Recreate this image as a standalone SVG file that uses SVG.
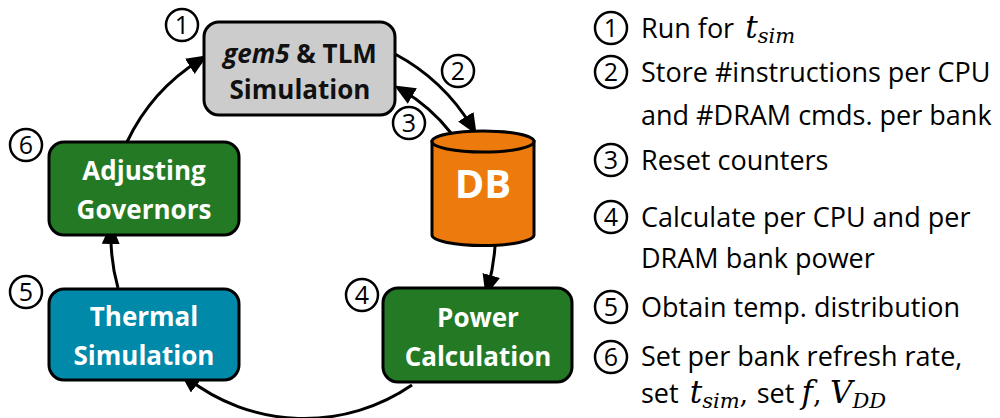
<svg xmlns="http://www.w3.org/2000/svg" width="1000" height="418" viewBox="0 0 1000 418">
<defs>
<style>
.box{stroke:#000;stroke-width:3}
.lbl{font-family:"Open Sans","Noto Sans",sans-serif;font-weight:bold;font-size:26px;fill:#fff;text-anchor:middle}
.num{fill:#fff;stroke:#000;stroke-width:2.5}
.numt{font-family:"Open Sans","Noto Sans",sans-serif;font-size:25px;fill:#000;text-anchor:middle}
.leg{font-family:"Open Sans","Noto Sans",sans-serif;font-size:27px;fill:#000}
.m{font-family:"DejaVu Serif","Liberation Serif",serif;font-style:italic}
.conn{fill:none;stroke:#000;stroke-width:3}
</style>
<marker id="ah" markerUnits="userSpaceOnUse" markerWidth="24" markerHeight="20" refX="12" refY="9" orient="auto">
<path d="M0,0 L21,9 L0,18 Z" fill="#000"/>
</marker>
</defs>
<rect width="1000" height="418" fill="#fff"/>

<g id="connectors">
<path class="conn" d="M127,142 A195,195 0 0 1 200,60" marker-end="url(#ah)"/>
<path class="conn" d="M395,54 A200,200 0 0 1 472,127" marker-end="url(#ah)"/>
<path class="conn" d="M451,133 A175,175 0 0 0 402,90" marker-end="url(#ah)"/>
<path class="conn" d="M495,246 A196,196 0 0 1 488,287" marker-end="url(#ah)"/>
<path class="conn" d="M412,385 A190,190 0 0 1 187,378" marker-end="url(#ah)"/>
<path class="conn" d="M118,288 A190,190 0 0 1 111,232" marker-end="url(#ah)"/>
</g>

<g id="gem5">
<rect class="box" x="204" y="22" width="191" height="93" rx="15" fill="#cccccc"/>
<text class="lbl" x="300" y="63" style="fill:#111"><tspan font-style="italic">gem5</tspan> &amp; TLM</text>
<text class="lbl" x="300" y="99" style="fill:#111">Simulation</text>
</g>

<g id="db">
<path class="box" d="M432,141.5 L432,235 A51,10.5 0 0 0 534,235 L534,141.5 Z" fill="#ed7a0c"/>
<ellipse class="box" cx="483" cy="141.5" rx="51" ry="10.5" fill="#ed7a0c"/>
<text class="lbl" x="483" y="198" style="font-size:40px">DB</text>
</g>

<g id="power">
<rect class="box" x="383" y="288" width="189" height="94" rx="15" fill="#247a24"/>
<text class="lbl" x="478" y="327">Power</text>
<text class="lbl" x="478" y="366">Calculation</text>
</g>

<g id="thermal">
<rect class="box" x="49" y="289" width="190" height="91" rx="15" fill="#0089a8"/>
<text class="lbl" x="144" y="326">Thermal</text>
<text class="lbl" x="144" y="365">Simulation</text>
</g>

<g id="adjusting">
<rect class="box" x="49" y="142" width="190" height="93" rx="15" fill="#247a24"/>
<text class="lbl" x="144" y="180">Adjusting</text>
<text class="lbl" x="144" y="219">Governors</text>
</g>

<g id="step-markers">
<circle class="num" cx="182" cy="25" r="16"/><text class="numt" x="182" y="34">1</text>
<circle class="num" cx="458" cy="71" r="16"/><text class="numt" x="458" y="80">2</text>
<circle class="num" cx="409" cy="123" r="16"/><text class="numt" x="409" y="132">3</text>
<circle class="num" cx="362" cy="295" r="16"/><text class="numt" x="362" y="304">4</text>
<circle class="num" cx="26" cy="292" r="16"/><text class="numt" x="26" y="301">5</text>
<circle class="num" cx="26" cy="145" r="16"/><text class="numt" x="26" y="154">6</text>
</g>

<g id="legend">
<circle class="num" cx="611" cy="28" r="16"/><text class="numt" x="611" y="37">1</text>
<text class="leg" x="641" y="38">Run for <tspan class="m" font-size="31" dx="4">t</tspan><tspan class="m" font-size="21" dy="5">sim</tspan></text>

<circle class="num" cx="611" cy="72" r="16"/><text class="numt" x="611" y="81">2</text>
<text class="leg" x="641" y="82">Store #instructions per CPU</text>
<text class="leg" x="641" y="125">and #DRAM cmds. per bank</text>

<circle class="num" cx="611" cy="160" r="16"/><text class="numt" x="611" y="169">3</text>
<text class="leg" x="641" y="170">Reset counters</text>

<circle class="num" cx="611" cy="217" r="16"/><text class="numt" x="611" y="226">4</text>
<text class="leg" x="641" y="227">Calculate per CPU and per</text>
<text class="leg" x="641" y="268">DRAM bank power</text>

<circle class="num" cx="611" cy="307" r="16"/><text class="numt" x="611" y="316">5</text>
<text class="leg" x="641" y="317">Obtain temp. distribution</text>

<circle class="num" cx="611" cy="357" r="16"/><text class="numt" x="611" y="366">6</text>
<text class="leg" x="641" y="366">Set per bank refresh rate,</text>
<text class="leg" x="641" y="403">set <tspan class="m" font-size="31" dx="4">t</tspan><tspan class="m" font-size="21" dy="5">sim</tspan><tspan font-family="DejaVu Serif" font-size="27" dy="-5">, </tspan>set <tspan class="m" font-size="31">f</tspan><tspan font-family="DejaVu Serif" font-size="27">, </tspan><tspan class="m" font-size="31">V</tspan><tspan class="m" font-size="21" dy="5">DD</tspan></text>
</g>
</svg>
